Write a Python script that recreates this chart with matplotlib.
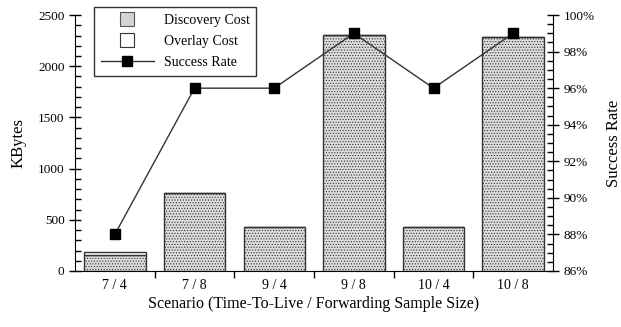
import matplotlib.pyplot as plt
import numpy as np
from matplotlib.ticker import MultipleLocator, FixedLocator
from matplotlib.lines import Line2D

plt.rcParams['font.family'] = ['Liberation Serif', 'DejaVu Serif']
plt.rcParams['hatch.color'] = '#c8c8c8'
plt.rcParams['hatch.linewidth'] = 0.5

scenarios = ["7 / 4", "7 / 8", "9 / 4", "9 / 8", "10 / 4", "10 / 8"]
discovery_cost = [155, 762, 430, 2305, 430, 2285]
overlay_cost = [35, 0, 0, 0, 0, 0]
success_rate = [88, 96, 96, 99, 96, 99]

x = np.arange(len(scenarios))

fig = plt.figure(figsize=(6.21, 3.27), dpi=100)
ax = fig.add_axes([0.1208, 0.1713, 0.7697, 0.7827])

# bars: discovery (dotted grey) with overlay stacked on top (white)
ax.bar(x, discovery_cost, width=0.77, facecolor='#dcdcdc', edgecolor='#333333',
       linewidth=1.0, hatch='......', zorder=2)
ax.bar(x, overlay_cost, width=0.77, bottom=discovery_cost, facecolor='white',
       edgecolor='#333333', linewidth=1.0, zorder=2)

ax.set_xlim(-0.5, len(scenarios) - 0.5)
ax.set_ylim(0, 2500)
ax.set_xticks(x)
ax.set_xticklabels(scenarios, fontsize=10)
ax.xaxis.set_minor_locator(FixedLocator(x[:-1] + 0.5))
ax.tick_params(axis='x', which='major', length=0, pad=6)
ax.tick_params(axis='x', which='minor', length=5, direction='out', width=1)
ax.yaxis.set_major_locator(MultipleLocator(500))
ax.yaxis.set_minor_locator(MultipleLocator(100))
ax.tick_params(axis='y', which='major', direction='inout', length=9, width=1, labelsize=9.5, pad=3)
ax.tick_params(axis='y', which='minor', direction='in', length=4, width=1)
ax.spines['top'].set_visible(False)
ax.spines['right'].set_visible(False)
ax.set_ylabel("KBytes", fontsize=12, labelpad=8)
ax.set_xlabel("Scenario (Time-To-Live / Forwarding Sample Size)", fontsize=11.5, labelpad=3)

ax2 = ax.twinx()
ax2.plot(x, success_rate, color='#333333', linewidth=1.0, marker='s',
         markersize=7.5, markerfacecolor='black', markeredgecolor='black', zorder=3)
ax2.set_ylim(86, 100)
ticks2 = np.arange(86, 101, 2)
ax2.set_yticks(ticks2)
ax2.set_yticklabels([f"{v}%" for v in ticks2])
ax2.yaxis.set_minor_locator(MultipleLocator(0.5))
ax2.tick_params(axis='y', which='major', direction='inout', length=9, width=1, labelsize=9.5, pad=3)
ax2.tick_params(axis='y', which='minor', direction='in', length=4, width=1)
ax2.spines['top'].set_visible(False)
ax2.spines['left'].set_visible(False)
ax2.spines['bottom'].set_visible(False)
ax2.set_ylabel("Success Rate", fontsize=12, labelpad=8)

handles = [
    Line2D([0], [0], linestyle='none', marker='s', markersize=10,
           markerfacecolor='#d3d3d3', markeredgecolor='#555555', markeredgewidth=0.8),
    Line2D([0], [0], linestyle='none', marker='s', markersize=10,
           markerfacecolor='white', markeredgecolor='#333333', markeredgewidth=0.8),
    Line2D([0], [0], color='#333333', linewidth=1.0, marker='s', markersize=7,
           markerfacecolor='black', markeredgecolor='black'),
]
leg = ax2.legend(handles, ["Discovery Cost", "Overlay Cost", "Success Rate"],
                 loc='upper left', bbox_to_anchor=(0.04, 1.03), borderaxespad=0,
                 fontsize=10, frameon=True, fancybox=False, edgecolor='#333333',
                 framealpha=1, handlelength=3.8, handletextpad=0.7, borderpad=0.5,
                 labelspacing=0.55)
leg.get_frame().set_linewidth(1.0)

fig.savefig("out.png", dpi=100)
